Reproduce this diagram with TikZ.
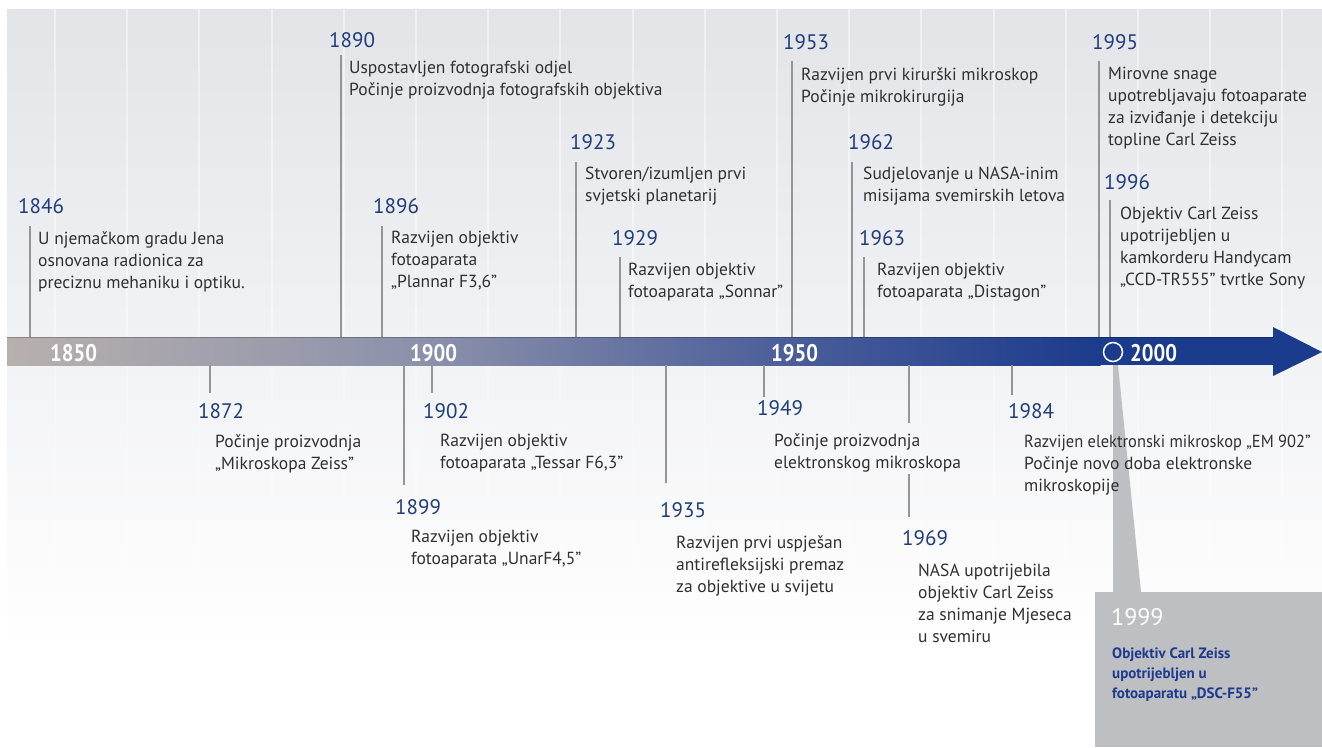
\documentclass[tikz,border=0pt]{standalone}
\usepackage{fontspec}
\setmainfont{PT Sans}
\newfontfamily\barfont{PT Sans}[FakeStretch=0.86]
\newfontfamily\narrowfont{PT Sans}[FakeStretch=0.94]
\definecolor{yearblue}{HTML}{1F3D7A}
\definecolor{txt}{HTML}{303030}
\definecolor{tickc}{HTML}{959595}
\definecolor{bg}{HTML}{E2E4E8}
\definecolor{barA}{HTML}{B8B0AE}
\definecolor{barB}{HTML}{8A90AB}
\definecolor{barC}{HTML}{4A5D9A}
\definecolor{barD}{HTML}{1B3B8C}
\definecolor{boxg}{HTML}{BEBFC2}
\definecolor{boxblue}{HTML}{1E3A8C}
\tikzset{
  yearlbl/.style={anchor=base west, inner sep=0pt, text=yearblue, font=\fontsize{21}{24}\selectfont},
  evtext/.style={anchor=north west, inner sep=0pt, align=left, text=txt, font=\fontsize{17.5}{22}\selectfont},
  tickline/.style={draw=tickc, line width=1.2pt},
  barlbl/.style={anchor=base west, inner sep=0pt, text=white, font=\barfont\bfseries\fontsize{24}{26}\selectfont},
  stripe/.style={draw=white, line width=2pt, opacity=0.45}
}
\begin{document}
\begin{tikzpicture}[x=1pt,y=-1pt]
\useasboundingbox (0,0) rectangle (1322,747);
\fill[white] (0,0) rectangle (1322,747);
% background
\shade[top color=bg, bottom color=white] (7,9) rectangle (1322,650);
\foreach \k in {0,...,17} {
  \draw[stripe] ({55+72.2*\k},9) -- ({55+72.2*\k},337);
  \draw[stripe, opacity=0.3] ({55+72.2*\k},365) -- ({55+72.2*\k},620);
}
% callout box for 1999
\fill[boxg] (1113,365) -- (1118,365) -- (1141,592) -- (1113,592) -- cycle;
\fill[boxg] (1095,592) rectangle (1322,747);
% timeline bar
\shade[left color=barA, right color=barB] (7,337) rectangle (433.5,365);
\shade[left color=barB, right color=barC] (433,337) rectangle (793.5,365);
\shade[left color=barC, right color=barD] (793,337) rectangle (1100.5,365);
\fill[barD] (1100,337) rectangle (1275,365);
\fill[barD] (1273,327) -- (1322,352) -- (1273,376) -- cycle;
\draw[black, opacity=0.25, line width=1pt] (7,337.5) -- (1273,337.5);
% bar labels
\node[barlbl] (d1850) at (50,361) {1850};
\node[barlbl] (d1900) at (410,361) {1900};
\node[barlbl] (d1950) at (771,361) {1950};
\node[barlbl] (d2000) at (1130,361) {2000};
\node[draw=white, line width=1.5pt, circle, minimum size=19pt, inner sep=0pt] (circ) at (1113,352) {};

% ---------- events above ----------
\coordinate (b1846) at (30,337); \coordinate (t1846) at (30,226);
\node[yearlbl] (y1846) at (18,213) {1846};
\node[evtext] (e1846) at (38,231) {U njemačkom gradu Jena\\osnovana radionica za\\preciznu mehaniku i optiku.};
\draw[tickline] (b1846) -- (t1846);

\coordinate (b1890) at (341,337); \coordinate (t1890) at (341,55);
\node[yearlbl] (y1890) at (329,47) {1890};
\node[evtext] (e1890) at (349,61) {Uspostavljen fotografski odjel\\Počinje proizvodnja fotografskih objektiva};
\draw[tickline] (b1890) -- (t1890);

\coordinate (b1896) at (382,337); \coordinate (t1896) at (382,226);
\node[yearlbl] (y1896) at (373,213) {1896};
\node[evtext] (e1896) at (391,231) {Razvijen objektiv\\fotoaparata\\„Plannar F3,6”};
\draw[tickline] (b1896) -- (t1896);

\coordinate (b1923) at (576,337); \coordinate (t1923) at (576,162);
\node[yearlbl] (y1923) at (570,149) {1923};
\node[evtext] (e1923) at (585,167) {Stvoren/izumljen prvi\\svjetski planetarij};
\draw[tickline] (b1923) -- (t1923);

\coordinate (b1929) at (620,337); \coordinate (t1929) at (620,257);
\node[yearlbl] (y1929) at (612,245) {1929};
\node[evtext] (e1929) at (628,263) {Razvijen objektiv\\fotoaparata „Sonnar”};
\draw[tickline] (b1929) -- (t1929);

\coordinate (b1953) at (792,337); \coordinate (t1953) at (792,61);
\node[yearlbl] (y1953) at (783,49) {1953};
\node[evtext] (e1953) at (801,67) {Razvijen prvi kirurški mikroskop\\Počinje mikrokirurgija};
\draw[tickline] (b1953) -- (t1953);

\coordinate (b1962) at (852,337); \coordinate (t1962) at (852,162);
\node[yearlbl] (y1962) at (848,149) {1962};
\node[evtext] (e1962) at (863,167) {Sudjelovanje u NASA-inim\\misijama svemirskih letova};
\draw[tickline] (b1962) -- (t1962);

\coordinate (b1963) at (864,337); \coordinate (t1963) at (864,257);
\node[yearlbl] (y1963) at (859,245) {1963};
\node[evtext] (e1963) at (877,263) {Razvijen objektiv\\fotoaparata „Distagon”};
\draw[tickline] (b1963) -- (t1963);

\coordinate (b1995) at (1099,337); \coordinate (t1995) at (1099,61);
\node[yearlbl] (y1995) at (1092,49) {1995};
\node[evtext] (e1995) at (1108,67) {Mirovne snage\\upotrebljavaju fotoaparate\\za izviđanje i detekciju\\topline Carl Zeiss};
\draw[tickline] (b1995) -- (t1995);

\coordinate (b1996) at (1110,337); \coordinate (t1996) at (1110,200);
\node[yearlbl] (y1996) at (1104,189) {1996};
\node[evtext] (e1996) at (1120,207) {Objektiv Carl Zeiss\\upotrijebljen u\\kamkorderu Handycam\\„CCD-TR555” tvrtke Sony};
\draw[tickline] (b1996) -- (t1996);

% ---------- events below ----------
\coordinate (b1872) at (210,365); \coordinate (t1872) at (210,393);
\node[yearlbl] (y1872) at (198,418) {1872};
\node[evtext] (e1872) at (215,434) {Počinje proizvodnja\\„Mikroskopa Zeiss”};
\draw[tickline] (b1872) -- (t1872);

\coordinate (b1899) at (404,365); \coordinate (t1899) at (404,485);
\node[yearlbl] (y1899) at (395,514) {1899};
\node[evtext] (e1899) at (411,530) {Razvijen objektiv\\fotoaparata „UnarF4,5”};
\draw[tickline] (b1899) -- (t1899);

\coordinate (b1902) at (432,365); \coordinate (t1902) at (432,393);
\node[yearlbl] (y1902) at (423,418) {1902};
\node[evtext] (e1902) at (440,434) {Razvijen objektiv\\fotoaparata „Tessar F6,3”};
\draw[tickline] (b1902) -- (t1902);

\coordinate (b1935) at (666,365); \coordinate (t1935) at (666,483);
\node[yearlbl] (y1935) at (660,517) {1935};
\node[evtext] (e1935) at (676,535) {Razvijen prvi uspješan\\antirefleksijski premaz\\za objektive u svijetu};
\draw[tickline] (b1935) -- (t1935);

\coordinate (b1949) at (764,365); \coordinate (t1949) at (764,397);
\node[yearlbl] (y1949) at (757,415) {1949};
\node[evtext] (e1949) at (774,433) {Počinje proizvodnja\\elektronskog mikroskopa};
\draw[tickline] (b1949) -- (t1949);

\coordinate (b1969) at (909,365); \coordinate (m1969a) at (909,423);
\coordinate (m1969b) at (909,474); \coordinate (t1969) at (909,517);
\node[yearlbl] (y1969) at (902,545) {1969};
\node[evtext] (e1969) at (918,564) {NASA upotrijebila\\objektiv Carl Zeiss\\za snimanje Mjeseca\\u svemiru};
\draw[tickline] (b1969) -- (m1969a);
\draw[tickline] (m1969b) -- (t1969);

\coordinate (b1984) at (1012,365); \coordinate (t1984) at (1012,395);
\node[yearlbl] (y1984) at (1008,418) {1984};
\node[evtext] (e1984) at (1024,435) {{\narrowfont Razvijen elektronski mikroskop „EM 902”}\\Počinje novo doba elektronske\\mikroskopije};
\draw[tickline] (b1984) -- (t1984);

% ---------- 1999 box ----------
\node[anchor=base west, inner sep=0pt, text=white, font=\fontsize{24}{26}\selectfont] (y1999) at (1111,625) {1999};
\node[anchor=north west, inner sep=0pt, align=left, text=boxblue, font=\bfseries\fontsize{15}{20}\selectfont] (e1999) at (1112,648) {Objektiv Carl Zeiss\\upotrijebljen u\\fotoaparatu „DSC-F55”};
\end{tikzpicture}
\end{document}
